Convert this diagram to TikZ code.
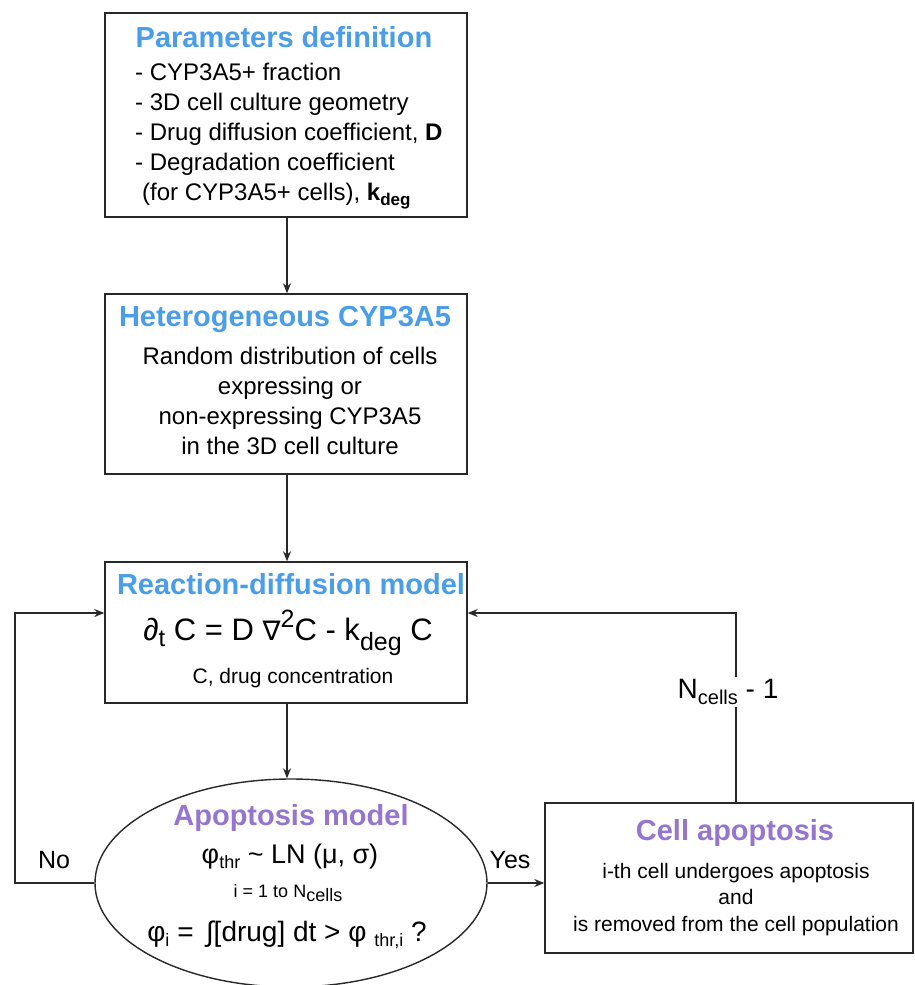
\documentclass[tikz,border=0pt]{standalone}
\usepackage{fontspec}
\setmainfont{Liberation Sans}
\newfontfamily\dejavu{DejaVu Sans}
\usetikzlibrary{shapes.geometric,arrows.meta}
\definecolor{tblue}{RGB}{74,157,232}
\definecolor{tpurple}{RGB}{149,117,205}
\definecolor{lgray}{RGB}{40,40,40}
\newcommand\fs[1]{\fontsize{#1}{#1}\selectfont}
\newcommand\fsb[2]{\fontsize{#1}{#2}\selectfont}
\newcommand\sbx[3]{\raisebox{#1pt}{\fs{#2}#3}}
\begin{document}
\begin{tikzpicture}[x=1pt,y=1pt,
  box/.style={draw=lgray, line width=1.4pt, rectangle, inner sep=0},
  ttl/.style={font=\fs{29}\bfseries, text=tblue, inner sep=0},
  pttl/.style={font=\fs{29}\bfseries, text=tpurple, inner sep=0},
  arr/.style={draw=lgray, line width=1.3pt, -{Stealth[length=10pt,width=8pt]}},
  ln/.style={draw=lgray, line width=1.3pt}]
\useasboundingbox (0,0) rectangle (915,-985);
% boxes
\node[box, minimum width=362, minimum height=204] (par) at (286,-115) {};
\node[box, minimum width=362, minimum height=180] (het) at (286,-384) {};
\node[box, minimum width=362, minimum height=141] (rd) at (286,-632.5) {};
\node[ellipse, draw=lgray, line width=1.4pt, inner sep=0, minimum width=392, minimum height=208] (apo) at (291,-883) {};
\node[box, minimum width=368, minimum height=150] (cell) at (729,-878) {};
% texts box 1
\node[ttl] (t1) at (284,-37) {Parameters definition};
\node[inner sep=0, anchor=north west, align=left, font=\fsb{24}{30}]
  (b1) at (135,-63) {- CYP3A5+ fraction\\
  - 3D cell culture geometry\\
  - Drug diffusion coefficient, \textbf{D}\\
  - Degradation coefficient\\
  \hspace*{7pt}(for CYP3A5+ cells), \textbf{k}\sbx{-5}{17}{\bfseries deg}};
% box 2
\node[ttl] (t2) at (285,-319) {Heterogeneous CYP3A5};
\node[inner sep=0, align=center, anchor=north, font=\fsb{24}{30}] (b2) at (290,-347)
  {Random distribution of cells\\ expressing or\\ non-expressing CYP3A5\\ in the 3D cell culture};
% box 3
\node[ttl] (t3) at (291,-584) {Reaction-diffusion model};
\node[inner sep=0, font=\fs{31}] (eq) at (288,-633)
  {∂\sbx{-6}{24}{t} C = D {\dejavu\fs{27}∇}\sbx{13}{25}{2}C - k\sbx{-10}{25}{deg} C};
\node[inner sep=0, font=\fs{21}] (b3) at (293,-678) {C, drug concentration};
% ellipse
\node[pttl] (t4) at (291,-818) {Apoptosis model};
\node[inner sep=0, font=\fs{27}] (e1) at (290,-857) {φ\sbx{-5}{18}{thr} \textasciitilde{} LN (μ, σ)};
\node[inner sep=0, font=\fs{18}] (e2) at (288,-893) {i = 1 to N\sbx{-4}{18}{cells}};
\node[inner sep=0, font=\fs{28}] (e3) at (287,-935) {φ\sbx{-5}{18}{i} = \,∫[drug] dt > φ \sbx{-5}{18}{thr,i} ?};
% box 4
\node[pttl] (t5) at (735,-833) {Cell apoptosis};
\node[inner sep=0, font=\fsb{21}{26.5}, align=center, anchor=north] (b5) at (736,-863)
  {i-th cell undergoes apoptosis\\ and\\ is removed from the cell population};
% connectors
\draw[arr] (par.south -| t1) ++(3,0) coordinate (s1) -- (s1 |- het.north);
\draw[arr] (het.south) ++(1,0) coordinate (s2) -- (s2 |- rd.north);
\draw[arr] (rd.south) ++(1,0) coordinate (s3) -- (s3 |- apo.north);
\coordinate (nl) at (15,-613);
\draw[arr] (apo.west) -| (nl) -- (nl -| rd.west);
\node[inner sep=0, font=\fs{25}] (no) at (54,-860) {No};
\draw[arr] (apo.east) -- (apo.east -| cell.west);
\node[inner sep=0, font=\fs{25}] (yes) at (510,-860) {Yes};
\coordinate (nr) at (736,-613);
\draw[arr] (cell.north -| nr) -- (nr) -- (nr -| rd.east);
\node[inner sep=2pt, fill=white, font=\fs{28}] (nc) at (728,-692) {N\sbx{-6}{20}{cells} - 1};
\end{tikzpicture}
\end{document}
